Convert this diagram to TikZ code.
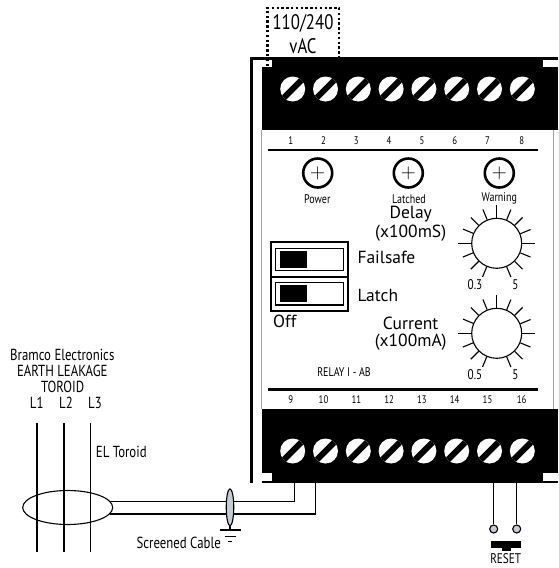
\documentclass[tikz,border=0pt]{standalone}
\usepackage{fontspec}
\setmainfont{PT Sans}
\newfontfamily\condfont[FakeStretch=0.8]{PT Sans}
\usetikzlibrary{shapes.geometric}
\definecolor{pingrey}{HTML}{C5CBD5}
\tikzset{
  screw/.style={circle, fill=white, inner sep=0pt, minimum size=25pt, path picture={\draw[line width=6pt] (path picture bounding box.south west) -- (path picture bounding box.north east);}},
  lamp/.style={circle, draw=black, line width=2.6pt, inner sep=0pt, minimum size=29pt, font=\fontsize{21}{21}\selectfont},
  dial/.style={circle, draw=black, line width=1.1pt, inner sep=0pt, minimum size=50pt},
  pin/.style={circle, draw=black, line width=1.1pt, fill=pingrey, inner sep=0pt, minimum size=8pt},
  numtext/.style={inner sep=0pt, font=\condfont\fontsize{11}{11}\selectfont},
  lamptext/.style={inner sep=0pt, font=\condfont\fontsize{12.5}{12.5}\selectfont},
  dialtext/.style={inner sep=0pt, font=\condfont\fontsize{14}{14}\selectfont},
  sidetext/.style={inner sep=0pt, font=\condfont\fontsize{16}{16}\selectfont},
  bigtext/.style={inner sep=0pt, font=\fontsize{17.5}{17.5}\selectfont},
  supplytext/.style={inner sep=0pt, font=\condfont\fontsize{21}{21}\selectfont},
  wire/.style={draw=black, line width=1.1pt}
}
\begin{document}
\begin{tikzpicture}[x=1pt, y=-1pt]
	\useasboundingbox (0,0) rectangle (558,568);
	% housing
	\fill (250,57) rectangle (558,60);
	\fill (250,57) rectangle (253,483);
	\fill (262,57) rectangle (558,130);
	\fill (262,409) rectangle (558,483);
	\fill[white] (253,60) rectangle (272,67);
	\fill[white] (543,60) rectangle (558,67);
	\fill[white] (253,473) rectangle (272,481);
	\fill[white] (543,473) rectangle (558,481);
	\draw[gray!70, line width=0.6pt] (261.7,130) -- (261.7,409);
	\draw[gray!70, line width=0.6pt] (553,130) -- (553,409);
	\draw[line width=2.2pt] (268,150) -- (538,150);
	\draw[line width=2.2pt] (268,389.5) -- (538,389.5);

	% supply
	\node[supplytext] (supplya) at (303,23){110/240};
	\node[supplytext] (supplyb) at (303,46.5){vAC};
	\draw[line width=2.4pt, dash pattern=on 2.4pt off 2.4pt] (267.3,66) -- (267.3,8) -- (339,8) -- (339,57);

	% terminals
	\node[screw] (s1) at (292.7,89){};
	\node[screw] (s2) at (325.5,89){};
	\node[screw] (s3) at (358.3,89){};
	\node[screw] (s4) at (391.1,89){};
	\node[screw] (s5) at (423.9,89){};
	\node[screw] (s6) at (456.7,89){};
	\node[screw] (s7) at (489.5,89){};
	\node[screw] (s8) at (522.3,89){};
	\node[screw] (s9) at (292.7,451){};
	\node[screw] (s10) at (325.5,451){};
	\node[screw] (s11) at (358.3,451){};
	\node[screw] (s12) at (391.1,451){};
	\node[screw] (s13) at (423.9,451){};
	\node[screw] (s14) at (456.7,451){};
	\node[screw] (s15) at (489.5,451){};
	\node[screw] (s16) at (522.3,451){};

	\node[numtext] (n1) at (290.7,141){1};
	\node[numtext] (n2) at (323.5,141){2};
	\node[numtext] (n3) at (356.3,141){3};
	\node[numtext] (n4) at (389.1,141){4};
	\node[numtext] (n5) at (421.9,141){5};
	\node[numtext] (n6) at (454.7,141){6};
	\node[numtext] (n7) at (487.5,141){7};
	\node[numtext] (n8) at (521.7,141){8};
	\node[numtext] (n9) at (290.7,400){9};
	\node[numtext] (n10) at (323.5,400){10};
	\node[numtext] (n11) at (356.3,400){11};
	\node[numtext] (n12) at (389.1,400){12};
	\node[numtext] (n13) at (421.9,400){13};
	\node[numtext] (n14) at (454.7,400){14};
	\node[numtext] (n15) at (487.5,400){15};
	\node[numtext] (n16) at (521.7,400){16};

	% lamps
	\node[lamp] (power) at (317.7,173){$+$};
	\node[lamp] (latched) at (408.3,173){$+$};
	\node[lamp] (warning) at (499.3,173){$+$};
	\node[lamptext] (powertext) at (317.3,199.5){Power};
	\node[lamptext] (latchedtext) at (409,199.5){Latched};
	\node[lamptext] (warningtext) at (499.3,198){Warning};

	% dials
	\node[dial] (delay) at (496.7,243.3){};
	\node[dial] (current) at (496.7,333.3){};
	\foreach \d in {delay,current}
		\foreach \a/\l in {90/12.5,67.5/11,45/11,22.5/11,0/13,-22.5/11,-45/11,-67.5/11,112.5/11,135/11,157.5/11,180/13,202.5/11,225/11,247.5/11}
			\draw[wire] (\d.\a) -- ++(\a:\l pt);
	\node[dialtext] (delaymin) at (475,284.7){0.3};
	\node[dialtext] (delaymax) at (515.3,284.7){5};
	\node[dialtext] (currentmin) at (475,374.5){0.5};
	\node[dialtext] (currentmax) at (515.3,374.5){5};
	\node[bigtext] (delaya) at (410.7,214){Delay};
	\node[bigtext] (delayb) at (410.7,233){(x100mS)};
	\node[bigtext] (currenta) at (410.7,323){Current};
	\node[bigtext] (currentb) at (410.7,342.3){(x100mA)};

	% switches
	\draw[line width=1.8pt] (270.7,241.7) rectangle (348.3,311);
	\draw[line width=1.8pt] (270.7,276.7) -- (348.3,276.7);
	\draw[line width=1.1pt] (275.7,248.3) rectangle (343.3,270.7);
	\draw[line width=1.1pt] (275.7,282.3) rectangle (343.3,305);
	\fill (280,251) rectangle (307,268);
	\fill (280,285) rectangle (307,302);
	\node[bigtext, anchor=west] (failsafe) at (357.3,257){Failsafe};
	\node[bigtext, anchor=west] (latch) at (357.3,295){Latch};
	\node[bigtext, anchor=west] (off) at (273,321.7){Off};
	\node[lamptext] (relay) at (344,371.7){RELAY I - AB};

	% toroid
	\node[ellipse, draw=black, line width=1.1pt, inner sep=0pt, minimum width=90pt, minimum height=34pt] (toroid) at (67.7,507.5){};
	\coordinate (l1a) at (37,423);
	\coordinate (l1b) at (37,552);
	\coordinate (l2a) at (64,423);
	\coordinate (l2b) at (64,552);
	\coordinate (l3a) at (90.3,423);
	\coordinate (l3b) at (90.3,552);
	\path[wire] (l1a) edge (l1b);
	\path[wire] (l2a) edge (l2b);
	\path[wire] (l3a) edge (l3b);
	\node[sidetext] (brand) at (62.3,354.7){Bramco Electronics};
	\node[sidetext] (leakage) at (62.3,370.7){EARTH LEAKAGE};
	\node[sidetext] (toroidtext) at (62.7,386.7){TOROID};
	\node[sidetext] (l1) at (36.7,403){L1};
	\node[sidetext] (l2) at (66,403){L2};
	\node[sidetext] (l3) at (95,403){L3};
	\node[sidetext, anchor=west] (eltoroid) at (95.7,451.7){EL Toroid};

	% cable
	\coordinate (ta) at (294.3,483);
	\coordinate (tb) at (315.7,483);
	\coordinate (ca) at (110,501.7);
	\coordinate (cb) at (110,514);
	\draw[wire] (ta) |- (ca);
	\draw[wire] (tb) |- (cb);
	\node[ellipse, draw=black, line width=1.1pt, fill=pingrey, inner sep=0pt, minimum width=7.5pt, minimum height=37pt] (gland) at (230,507.3){};
	\coordinate (earth) at (230,530);
	\draw[wire] (gland) -- (earth);
	\draw[wire] (220,530) -- (240.7,530);
	\draw[wire] (225,536.5) -- (236,536.5);
	\draw[wire] (228,541.5) -- (232,541.5);
	\node[sidetext, anchor=east] (screened) at (221,543){Screened Cable};

	% reset
	\node[pin] (pina) at (493.7,529){};
	\node[pin] (pinb) at (516.7,529){};
	\coordinate (tc) at (493.7,483);
	\coordinate (td) at (516.7,483);
	\draw[wire] (tc) -- (pina);
	\draw[wire] (td) -- (pinb);
	\fill (490.7,540.7) rectangle (521,547.7);
	\fill (501.7,547.7) rectangle (511,551);
	\node[inner sep=0pt, font=\condfont\fontsize{14}{14}\selectfont] (reset) at (505.7,559){RESET};
\end{tikzpicture}
\end{document}
